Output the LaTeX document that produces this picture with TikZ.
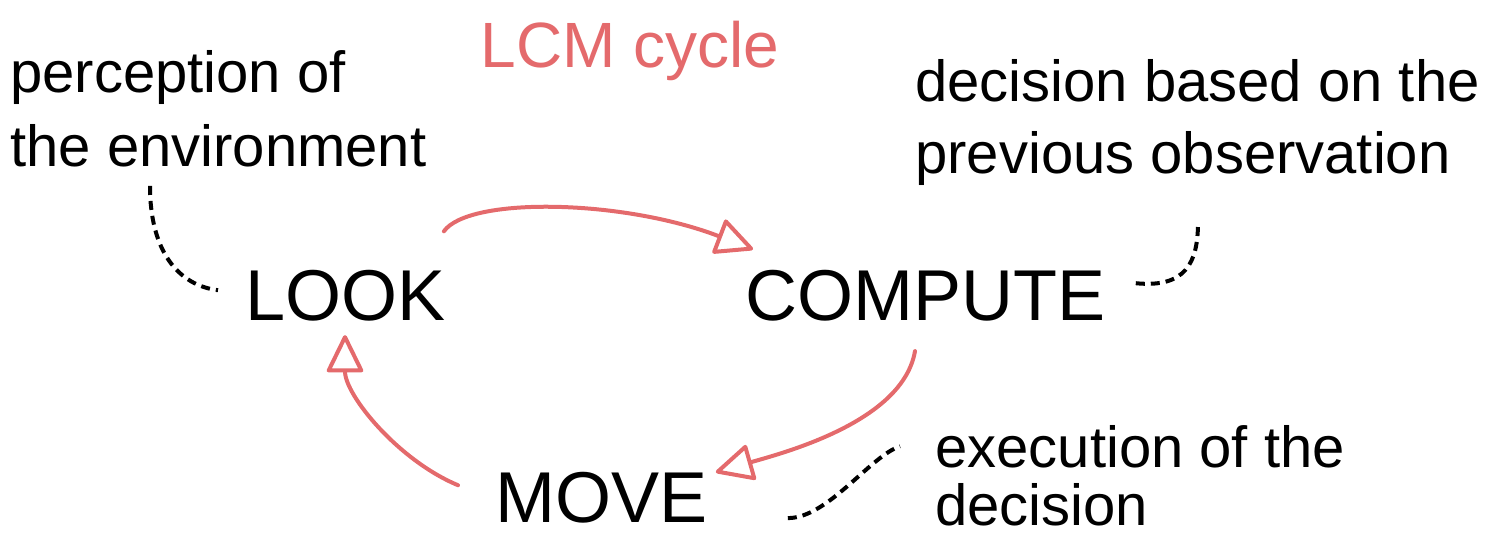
\documentclass[tikz,border=0pt]{standalone}
\usepackage{fontspec}
\setmainfont{Liberation Sans}
\usetikzlibrary{arrows.meta,calc}
\definecolor{cyclered}{HTML}{E46A6C}
\tikzset{
  stage/.style={anchor=base west, inner sep=0pt, font=\fontsize{36pt}{40pt}\selectfont},
  note/.style={anchor=base west, inner sep=0pt, font=\fontsize{29pt}{33pt}\selectfont},
  cyclearrow/.style={draw=cyclered, line width=2pt, line cap=round,
    -{Triangle[open,length=20pt,width=19pt,line width=2pt,round]}},
  pointer/.style={draw=black, line width=2pt, dash pattern=on 4.5pt off 3pt}
}
\begin{document}
\begin{tikzpicture}[x=0.5pt,y=-0.5pt]
\useasboundingbox (0,0) rectangle (1510,535);

% title
\node[anchor=base, inner sep=0pt, text=cyclered,
  font=\fontsize{32pt}{36pt}\selectfont] (title) at (630,68) {LCM cycle};

% the three stages
\node[stage] (look) at (245,320) {LOOK};
\node[stage] (compute) at (745,320) {COMPUTE};
\node[stage] (move) at (495,522) {MOVE};

% explanations
\node[note] (lookA) at (10,93) {perception of};
\node[note] (lookB) at (10,167) {the environment};
\node[note] (compA) at (915,102) {decision based on the};
\node[note] (compB) at (915,173) {previous observation};
\node[note] (moveA) at (935,467) {execution of the};
\node[note] (moveB) at (935,525) {decision};

% cycle arrows
\draw[cyclearrow] ($(look.north east)+(-2,-38)$)
  .. controls +(25,-35) and +(-130,-50) .. ($(compute.north west)+(8,-20)$);
\draw[cyclearrow] ($(compute.south west)+(170,30)$)
  .. controls +(-12,70) and +(70,-20) .. ($(move.east)+(8,-25)$);
\draw[cyclearrow] ($(move.west)+(-37,-12)$)
  .. controls +(-60,-25) and +(0,60) .. ($(look.south west)+(100,14)$);

% dashed pointers from the notes to the stages
\draw[pointer] ($(lookB.south west)+(140,18)$)
  .. controls +(0,65) and +(-40,-5) .. ($(look.west)+(-27,-5)$);
\draw[pointer] ($(compute.east)+(30,-12)$)
  .. controls +(50,5) and +(0,40) .. ($(compB.south west)+(283,37)$);
\draw[pointer] ($(move.south east)+(80,-5)$)
  .. controls +(40,0) and +(-30,10) .. ($(moveA.west)+(-35,0)$);
\end{tikzpicture}
\end{document}
